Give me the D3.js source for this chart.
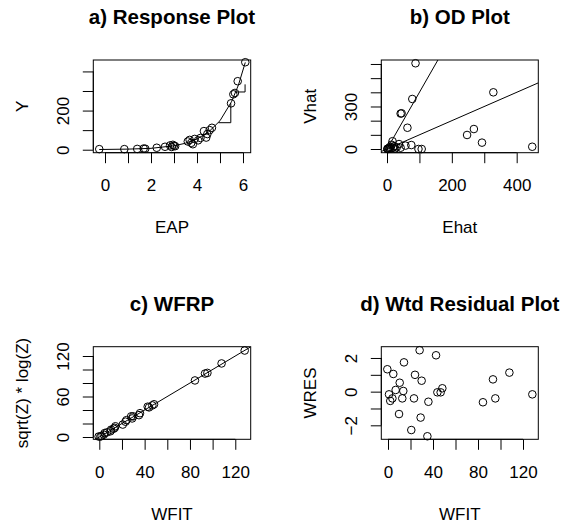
<!DOCTYPE html>
<html>
<head>
<meta charset="utf-8">
<script src="https://cdn.jsdelivr.net/npm/d3@7"></script>
<style>
    body { margin: 0; background: #fff; }
    svg { display: block; font-family: "Liberation Sans", Arial, Helvetica, sans-serif; }
</style>
</head>
<body>
<div id="chart"></div>
<script>
/*
 * a) Response plot data.
 */
var eap   = [-0.25, 0.84, 1.40, 1.68, 1.75, 2.25, 2.61, 2.83, 2.90, 2.95, 3.00, 3.05, 3.60, 3.68, 3.75, 3.82, 3.90, 4.05, 4.15, 4.30, 4.40, 4.45, 4.55, 4.65, 5.48, 5.58, 5.65, 5.77, 6.10];
var yResp = [3, 3, 4, 6, 5, 10, 15, 22, 14, 25, 20, 18, 42, 50, 35, 28, 55, 48, 60, 95, 62, 80, 100, 112, 237, 283, 290, 350, 447];
var fitX  = [-0.25, 1.0, 2.0, 3.0, 3.5, 4.0, 4.5, 5.0, 5.5, 5.8, 6.1];
var fitY  = [1, 3, 7, 20, 33, 55, 90, 148, 245, 330, 446];
var stepX1 = [4.93, 5.47, 5.47];
var stepY1 = [138, 138, 237];
var stepX2 = [5.69, 6.09, 6.09];
var stepY2 = [295, 295, 334];
/*
 * b) OD plot data.
 */
var ehat = [1, 2, 4, 6, 8, 10, 12, 14, 17, 19, 22, 25, 30, 37, 42, 42, 45, 57, 63, 75, 78, 88, 97, 107, 247, 268, 293, 328, 448];
var vhat = [0, 3, 1, 8, 2, 15, 5, 30, 55, 10, 20, 4, 12, 35, 9, 250, 252, 24, 150, 28, 353, 605, 0, 0, 99, 141, 45, 400, 16];
var odSlopes = [1, 4];
/*
 * c) WFRP and d) weighted residual data.
 */
var wfit = [-0.6, 0.9, 2.0, 3.9, 4.7, 6.8, 10.4, 9.8, 12.7, 13.6, 14.2, 20.7, 23.1, 24.0, 28.1, 29.0, 29.9, 35.0, 35.9, 42.7, 43.9, 46.8, 48.3, 84.4, 93.3, 95.4, 107.9, 128.3];
var wres = [1.33, -0.16, -0.55, -0.40, 1.05, 0.10, 0.53, -1.33, -0.40, 0.04, 1.74, -2.28, -0.40, 1.00, 2.46, -1.54, 0.65, -2.65, -0.60, 2.16, -0.04, -0.04, 0.20, -0.63, 0.73, -0.40, 1.13, -0.16];
var zLog = [0.7, 0.7, 1.5, 3.5, 5.8, 6.9, 10.9, 8.5, 12.3, 13.6, 15.9, 18.4, 22.7, 25.0, 30.6, 27.5, 30.6, 32.4, 35.3, 44.9, 43.9, 46.8, 48.5, 83.8, 94.0, 95.0, 109.0, 128.1];
/*
 * Axis ticks and the labels R kept.
 */
var ticksA = { x: [0, 1, 2, 3, 4, 5, 6], xLab: [0, 2, 4, 6], y: [0, 100, 200, 300, 400], yLab: [0, 200] };
var ticksB = { x: [0, 100, 200, 300, 400], xLab: [0, 200, 400], y: [0, 100, 200, 300, 400, 500, 600], yLab: [0, 300] };
var ticksC = { x: [0, 20, 40, 60, 80, 100, 120], xLab: [0, 40, 80, 120], y: [0, 20, 40, 60, 80, 100, 120], yLab: [0, 60, 120] };
var ticksD = { x: [0, 20, 40, 60, 80, 100, 120], xLab: [0, 40, 80, 120], y: [-2, -1, 0, 1, 2], yLab: [-2, 0, 2] };


/**
 * One base-graphics style scatter panel.
 * @public
 * @class
 * @param {Object} config
 */
function ScatterPanel(config) {
    this._config = config;
    this._xScale = d3.scaleLinear().domain(config.xDomain)
        .range([config.box.left, config.box.left + config.box.width]);
    this._yScale = d3.scaleLinear().domain(config.yDomain)
        .range([config.box.top + config.box.height, config.box.top]);
}


/**
 * Render panel.
 * @public
 * @param {d3.selection} svg
 * @returns {ScatterPanel}
 */
ScatterPanel.prototype.renderTo = function(svg) {

    var self = this;
    var cfg  = this._config;
    var box  = cfg.box;
    var x = this._xScale, y = this._yScale;

    var g = svg.append('g');
    /*
     * Clip region for lines.
     */
    g.append('clipPath')
        .attr('id', cfg.id + '-clip')
        .append('rect')
        .attr('x', box.left).attr('y', box.top)
        .attr('width', box.width).attr('height', box.height);

    var plot = g.append('g').attr('clip-path', 'url(#' + cfg.id + '-clip)');
    /*
     * Reference lines y = a + b x.
     */
    (cfg.ablines || []).forEach(function(ab) {
        var d = x.domain();
        plot.append('line')
            .attr('x1', x(d[0])).attr('y1', y(ab.a + ab.b * d[0]))
            .attr('x2', x(d[1])).attr('y2', y(ab.a + ab.b * d[1]))
            .attr('stroke', '#000').attr('stroke-width', 1);
    });
    /*
     * Polylines.
     */
    var line = d3.line().x(d => x(d[0])).y(d => y(d[1]));
    (cfg.lines || []).forEach(function(l) {
        plot.append('path')
            .attr('d', line(d3.zip(l.x, l.y)))
            .attr('fill', 'none')
            .attr('stroke', '#000').attr('stroke-width', 1);
    });
    /*
     * Open circles.
     */
    g.selectAll('circle.pt')
        .data(d3.zip(cfg.px, cfg.py))
        .join('circle')
        .attr('class', 'pt')
        .attr('cx', d => x(d[0]))
        .attr('cy', d => y(d[1]))
        .attr('r', 3.8)
        .attr('fill', 'none')
        .attr('stroke', '#000').attr('stroke-width', 1);
    /*
     * Box.
     */
    g.append('rect')
        .attr('x', box.left).attr('y', box.top)
        .attr('width', box.width).attr('height', box.height)
        .attr('fill', 'none').attr('stroke', '#000').attr('stroke-width', 1);
    /*
     * Bottom axis.
     */
    var t = cfg.ticks;
    var xAxis = g.append('g')
        .attr('transform', 'translate(0,' + (box.top + box.height) + ')')
        .call(d3.axisBottom(x).tickValues(t.x).tickSize(10.5).tickSizeOuter(0)
            .tickFormat(d => t.xLab.indexOf(d) >= 0 ? d3.format('')(d) : ''));
    xAxis.select('.domain').remove();
    xAxis.append('line')
        .attr('x1', x(t.x[0])).attr('x2', x(t.x[t.x.length - 1]))
        .attr('stroke', '#000');
    xAxis.selectAll('text')
        .attr('y', 38.3).attr('dy', null)
        .attr('font-size', 17).attr('font-family', null).attr('fill', '#000');
    /*
     * Left axis with vertical labels.
     */
    var yAxis = g.append('g')
        .attr('transform', 'translate(' + box.left + ',0)')
        .call(d3.axisLeft(y).tickValues(t.y).tickSize(10.5).tickSizeOuter(0)
            .tickFormat(d => t.yLab.indexOf(d) >= 0 ? String(d).replace('-', '\u2212') : ''));
    yAxis.select('.domain').remove();
    yAxis.append('line')
        .attr('y1', y(t.y[0])).attr('y2', y(t.y[t.y.length - 1]))
        .attr('stroke', '#000');
    yAxis.selectAll('text')
        .attr('x', null).attr('dy', null)
        .attr('text-anchor', 'middle')
        .attr('transform', 'translate(-24,0) rotate(-90)')
        .attr('font-size', 17).attr('font-family', null).attr('fill', '#000');
    g.selectAll('.tick line').attr('stroke', '#000');
    /*
     * Title and axis labels.
     */
    var cx = box.left + box.width / 2;
    var cy = box.top + box.height / 2;

    g.append('text')
        .attr('x', cx).attr('y', box.top - 35.7)
        .attr('text-anchor', 'middle')
        .attr('font-size', 20.5).attr('font-weight', 'bold')
        .text(cfg.title);

    g.append('text')
        .attr('x', cx).attr('y', box.top + box.height + 80.6)
        .attr('text-anchor', 'middle')
        .attr('font-size', 17)
        .text(cfg.xLabel);

    g.append('text')
        .attr('transform', 'translate(' + (box.left - 65) + ',' + cy + ') rotate(-90)')
        .attr('text-anchor', 'middle')
        .attr('font-size', 17)
        .text(cfg.yLabel);

    return this;
};


var svg = d3.select('#chart').append('svg')
    .attr('width', 568)
    .attr('height', 529);

svg.append('rect').attr('width', 568).attr('height', 529).attr('fill', '#fff');

new ScatterPanel({
    id: 'pa',
    title: 'a) Response Plot', xLabel: 'EAP', yLabel: 'Y',
    box: { left: 93.3, top: 60, width: 157.4, height: 92.7 },
    xDomain: [-0.509, 6.335], yDomain: [-15.3, 458.4],
    px: eap, py: yResp,
    lines: [{ x: fitX, y: fitY }, { x: stepX1, y: stepY1 }, { x: stepX2, y: stepY2 }],
    ticks: ticksA
}).renderTo(svg);

new ScatterPanel({
    id: 'pb',
    title: 'b) OD Plot', xLabel: 'Ehat', yLabel: 'Vhat',
    box: { left: 381.3, top: 60, width: 157, height: 92.7 },
    xDomain: [-17.6, 466.7], yDomain: [-26, 628],
    px: ehat, py: vhat,
    ablines: odSlopes.map(b => ({ a: 0, b: b })),
    ticks: ticksB
}).renderTo(svg);

new ScatterPanel({
    id: 'pc',
    title: 'c) WFRP', xLabel: 'WFIT', yLabel: 'sqrt(Z) * log(Z)',
    box: { left: 93.3, top: 346.7, width: 157.4, height: 92.6 },
    xDomain: [-5.3, 133.6], yDomain: [-3.4, 133.8],
    px: wfit, py: zLog,
    ablines: [{ a: 0, b: 1 }],
    ticks: ticksC
}).renderTo(svg);

new ScatterPanel({
    id: 'pd',
    title: 'd) Wtd Residual Plot', xLabel: 'WFIT', yLabel: 'WRES',
    box: { left: 381.3, top: 346.7, width: 157, height: 92.6 },
    xDomain: [-5.96, 133.6], yDomain: [-2.83, 2.67],
    px: wfit, py: wres,
    ticks: ticksD
}).renderTo(svg);
</script>
</body>
</html>
